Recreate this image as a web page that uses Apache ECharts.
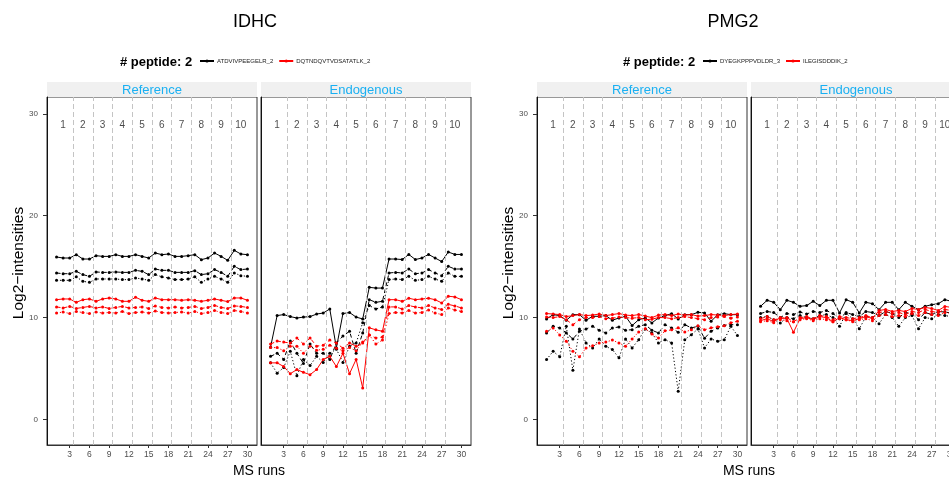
<!DOCTYPE html>
<html>
<head>
<meta charset="utf-8">
<script src="https://cdn.jsdelivr.net/npm/echarts@6/dist/echarts.min.js"></script>
<style>
  html, body { margin: 0; padding: 0; background: #fff; }
  #chart { width: 949px; height: 481px; }
</style>
</head>
<body>
<div id="chart"></div>
<script>
// ---- data ----
var runs = [1,2,3,4,5,6,7,8,9,10,11,12,13,14,15,16,17,18,19,20,21,22,23,24,25,26,27,28,29,30];
var conditions = ['1','2','3','4','5','6','7','8','9','10'];
var runsPerCondition = 3;
var runTicks = [3,6,9,12,15,18,21,24,27,30];
var intensityTicks = [0,10,20,30];

var idhcPeptides = ['ATDVIVPEEGELR_2', 'DQTNDQVTVDSATATLK_2'];
var pmg2Peptides = ['DYEGKPPPVDLDR_3', 'ILEGISDDDIK_2'];

// IDHC - Reference
var idhcRefP1T1 = [15.95,15.85,15.85,16.18,15.75,15.75,16.08,16.01,16.01,16.18,16.01,16.01,16.18,16.01,15.85,16.34,16.18,16.24,16.01,16.01,16.08,16.18,15.69,15.85,16.34,16.01,15.62,16.6,16.24,16.18];
var idhcRefP1T2 = [14.38,14.31,14.31,14.54,14.22,14.05,14.48,14.44,14.44,14.48,14.44,14.44,14.64,14.54,14.22,14.77,14.64,14.64,14.44,14.44,14.44,14.61,14.22,14.31,14.71,14.44,14.05,15.03,14.71,14.77];
var idhcRefP1T3 = [13.66,13.66,13.66,14.0,13.56,13.46,13.79,13.79,13.79,13.79,13.73,13.73,13.89,13.79,13.66,14.22,14.0,13.89,13.73,13.73,13.79,14.0,13.46,13.79,14.05,13.79,13.46,14.38,14.12,14.05];
var idhcRefP2T1 = [11.76,11.83,11.83,11.5,11.76,11.83,11.6,11.83,11.93,11.83,11.6,11.6,12.0,11.7,11.6,11.93,11.76,11.76,11.76,11.7,11.76,11.7,11.6,11.7,11.83,11.7,11.57,11.93,11.93,11.7];
var idhcRefP2T2 = [11.05,10.95,11.1,10.9,11.0,11.1,10.95,11.05,10.9,11.0,11.1,10.95,11.0,11.05,10.9,11.15,11.0,10.95,11.05,10.95,11.0,11.1,10.9,11.0,11.2,11.0,10.9,11.15,11.1,11.0];
var idhcRefP2T3 = [10.45,10.55,10.4,10.6,10.5,10.4,10.55,10.45,10.5,10.45,10.6,10.4,10.5,10.55,10.45,10.65,10.5,10.45,10.5,10.55,10.45,10.6,10.4,10.5,10.7,10.5,10.4,10.7,10.6,10.45];

// IDHC - Endogenous
var idhcEndP1T1 = [7.1,10.2,10.3,10.1,9.96,10.05,10.1,10.35,10.45,10.85,7.03,10.4,10.5,10.05,9.87,12.97,12.9,12.9,15.75,15.75,15.7,16.2,15.7,15.85,16.2,15.85,15.5,16.44,16.2,16.2];
var idhcEndP1T2 = [6.2,6.5,5.9,7.7,6.5,5.5,7.4,6.5,6.5,5.9,7.5,8.2,8.66,6.5,8.5,11.76,11.5,11.6,14.38,14.44,14.38,14.77,14.31,14.38,14.71,14.38,14.12,15.03,14.77,14.77];
var idhcEndP1T3 = [5.56,4.55,5.1,6.7,4.3,5.9,5.3,6.2,5.6,6.5,6.9,5.6,7.2,7.5,9.5,11.18,10.85,11.05,13.73,13.79,13.73,14.05,13.66,13.73,14.05,13.79,13.56,14.38,14.05,14.05];
var idhcEndP2T1 = [5.56,5.56,5.2,4.5,4.9,4.63,4.4,4.9,5.9,6.2,5.2,6.5,4.5,5.9,3.1,9.0,8.8,8.66,11.76,11.76,11.6,11.9,11.76,11.83,11.9,11.76,11.44,12.1,12.03,11.76];
var idhcEndP2T2 = [7.4,7.7,7.6,7.5,8.0,7.4,8.0,7.2,7.3,7.8,7.5,7.0,7.5,7.2,7.5,8.3,8.0,8.1,11.05,11.05,10.85,11.18,11.05,10.95,11.18,10.95,10.8,11.3,11.15,10.95];
var idhcEndP2T3 = [7.06,7.06,6.75,7.2,7.2,6.5,7.2,6.8,6.9,7.3,7.0,6.75,7.06,6.75,7.6,8.3,7.4,7.8,10.4,10.5,10.45,10.7,10.45,10.5,10.75,10.45,10.3,10.95,10.75,10.6];

// PMG2 - Reference
var pmg2RefP1T1 = [9.87,10.29,10.2,9.74,10.29,10.29,9.74,10.13,10.13,10.2,9.74,9.97,10.13,9.22,9.8,9.97,9.48,9.97,10.2,10.39,9.87,10.29,10.29,10.52,10.46,9.64,10.29,10.39,10.29,10.29];
var pmg2RefP1T2 = [8.5,9.15,8.99,8.5,7.9,8.66,8.89,9.15,8.76,8.5,8.99,9.08,8.76,8.82,9.15,9.31,8.76,8.5,9.31,8.99,8.56,9.31,8.99,9.15,7.97,8.66,8.99,9.22,9.31,9.31];
var pmg2RefP1T3 = [5.88,6.7,6.15,9.15,4.83,8.89,7.52,7.03,7.9,7.19,6.86,6.05,7.9,7.03,7.84,8.89,8.5,7.52,7.84,7.52,2.78,7.84,8.33,8.89,7.03,7.9,7.68,7.84,9.15,8.24];
var pmg2RefP2T1 = [10.4,10.35,10.3,10.1,10.2,10.3,10.2,10.25,10.35,10.2,10.3,10.4,10.25,10.2,10.3,10.15,10.0,10.25,10.3,10.2,10.35,10.25,10.3,10.15,10.2,10.3,10.25,10.2,10.3,10.35];
var pmg2RefP2T2 = [10.05,10.0,10.1,9.8,9.3,9.8,10.0,10.0,10.1,9.9,9.95,10.05,10.0,9.95,10.0,9.8,9.85,10.0,10.0,9.9,10.0,10.1,10.0,9.9,9.8,10.0,10.05,10.1,9.95,10.05];
var pmg2RefP2T3 = [8.66,8.99,8.3,7.68,6.7,6.15,7.03,7.25,7.5,7.6,7.8,7.5,7.2,7.9,8.6,8.9,8.4,8.0,8.7,8.8,9.0,8.6,8.8,9.2,8.8,9.0,9.1,9.2,9.5,9.64];

// PMG2 - Endogenous
var pmg2EndP1T1 = [11.11,11.7,11.5,10.78,11.7,11.5,11.11,11.18,11.6,11.18,11.7,11.7,10.46,11.76,11.5,10.46,11.5,11.37,10.78,11.5,11.5,10.78,11.5,11.11,10.78,11.11,11.27,11.37,11.76,11.6];
var pmg2EndP1T2 = [10.4,10.6,10.5,10.0,10.4,10.3,10.55,10.35,10.6,10.5,10.7,10.4,9.9,10.5,10.3,10.1,10.6,10.5,10.2,10.6,10.4,10.0,10.5,10.4,9.8,10.5,10.3,10.6,10.55,10.45];
var pmg2EndP1T3 = [10.0,10.1,9.8,9.48,10.0,9.9,10.2,10.0,9.9,10.2,10.3,10.0,9.15,10.4,9.9,8.9,10.1,10.0,9.4,10.3,10.0,9.15,10.0,10.2,8.9,10.0,9.9,10.3,10.2,10.1];
var pmg2EndP2T1 = [9.7,9.9,9.6,10.0,9.9,8.56,9.9,10.0,9.8,10.1,10.0,9.6,10.0,9.8,9.7,9.9,10.1,9.9,10.7,10.8,10.6,10.7,10.6,10.9,10.8,11.0,10.9,10.7,11.1,11.0];
var pmg2EndP2T2 = [9.9,10.1,9.8,9.9,10.0,9.6,10.0,10.1,9.9,10.2,10.1,9.8,10.1,10.0,9.9,10.0,10.2,10.0,10.5,10.6,10.4,10.5,10.3,10.6,10.5,10.8,10.6,10.5,10.8,10.7];
var pmg2EndP2T3 = [9.6,9.7,9.5,9.8,9.7,9.6,9.8,9.9,9.7,9.9,9.8,9.6,9.9,9.8,9.6,9.8,9.9,9.7,10.2,10.3,10.1,10.2,10.1,10.4,10.2,10.5,10.3,10.2,10.5,10.4];

// ---- layout ----
var FONT = "'Liberation Sans', Arial, Helvetica, sans-serif";
var panelTop = 97, panelHeight = 348, panelWidth = 210;
var panelLefts = [47, 261, 537, 751];
var stripNames = ['Reference', 'Endogenous', 'Reference', 'Endogenous'];
var dashTypes = ['solid', [4, 3], [1.2, 2.2]];
var colors = ['#000000', '#FF0000'];

var panelData = [
  { peptides: idhcPeptides, sets: [[idhcRefP1T1, idhcRefP1T2, idhcRefP1T3], [idhcRefP2T1, idhcRefP2T2, idhcRefP2T3]] },
  { peptides: idhcPeptides, sets: [[idhcEndP1T1, idhcEndP1T2, idhcEndP1T3], [idhcEndP2T1, idhcEndP2T2, idhcEndP2T3]] },
  { peptides: pmg2Peptides, sets: [[pmg2RefP1T1, pmg2RefP1T2, pmg2RefP1T3], [pmg2RefP2T1, pmg2RefP2T2, pmg2RefP2T3]] },
  { peptides: pmg2Peptides, sets: [[pmg2EndP1T1, pmg2EndP1T2, pmg2EndP1T3], [pmg2EndP2T1, pmg2EndP2T2, pmg2EndP2T3]] }
];

// condition centres and boundaries from the run layout
var condCenters = conditions.map(function (c, i) { return i * runsPerCondition + (runsPerCondition + 1) / 2; });
var condBounds = [];
for (var b = 1; b < conditions.length; b++) condBounds.push(b * runsPerCondition + 0.5);

var grids = [], xAxes = [], yAxes = [], series = [], graphics = [];

panelLefts.forEach(function (left, g) {
  var isRef = (g % 2 === 0);
  grids.push({
    left: left, top: panelTop, width: panelWidth, height: panelHeight,
    outerBoundsMode: 'none', containLabel: false,
    show: true, borderColor: '#333', borderWidth: 1, backgroundColor: '#fff'
  });
  xAxes.push({
    type: 'value', gridIndex: g, min: -0.45, max: 31.45,
    axisLine: { show: true, onZero: false, lineStyle: { color: '#333', width: 1 } },
    axisTick: { show: true, length: 3, customValues: runTicks, lineStyle: { color: '#333' } },
    axisLabel: { customValues: runTicks, fontSize: 8.5, color: '#4D4D4D', fontFamily: FONT, margin: 5 },
    splitLine: { show: false }
  });
  yAxes.push({
    type: 'value', gridIndex: g, min: -2.5, max: 31.65,
    axisLine: { show: true, onZero: false, lineStyle: { color: '#111', width: 1 } },
    axisTick: { show: isRef, length: 4, customValues: intensityTicks, lineStyle: { color: '#333' } },
    axisLabel: { show: isRef, customValues: intensityTicks, fontSize: 8, color: '#4D4D4D', fontFamily: FONT, margin: 9 },
    splitLine: { show: false }
  });

  // condition labels + dashed separators
  series.push({
    type: 'scatter', xAxisIndex: g, yAxisIndex: g, silent: true, animation: false,
    symbol: 'circle', symbolSize: 1, itemStyle: { color: 'rgba(0,0,0,0)' },
    data: condCenters.map(function (x) { return [x, 28.9]; }),
    label: {
      show: true, position: 'inside', fontSize: 10, color: '#1A1A1A', fontFamily: FONT,
      formatter: function (p) { return conditions[p.dataIndex]; }
    },
    markLine: {
      silent: true, animation: false, symbol: ['none', 'none'],
      label: { show: false },
      lineStyle: { color: '#C4C4C4', type: [5, 3], width: 1 },
      data: condBounds.map(function (x) { return { xAxis: x }; })
    }
  });

  var pd = panelData[g];
  pd.sets.forEach(function (trans, p) {
    trans.forEach(function (vals, t) {
      series.push({
        type: 'line', name: pd.peptides[p], xAxisIndex: g, yAxisIndex: g,
        animation: false,
        data: runs.map(function (r, i) { return [r, vals[i]]; }),
        symbol: 'circle', symbolSize: 3, showSymbol: true,
        lineStyle: { color: colors[p], width: 1, type: dashTypes[t] },
        itemStyle: { color: colors[p] },
        emphasis: { disabled: true }
      });
    });
  });

  // strip
  graphics.push({
    type: 'rect', silent: true,
    shape: { x: left, y: 82, width: panelWidth, height: 15 },
    style: { fill: '#F0F0F0' }
  });
  graphics.push({
    type: 'text', silent: true,
    style: {
      text: stripNames[g], x: left + panelWidth / 2, y: 90,
      textAlign: 'center', textVerticalAlign: 'middle',
      fill: '#1AB0F2', font: '13px ' + FONT
    }
  });
});

function label(text, x, y, size, weight, rot) {
  return {
    type: 'text', silent: true, x: x, y: y, rotation: rot || 0,
    style: {
      text: text, x: 0, y: 0, textAlign: 'center', textVerticalAlign: 'middle',
      fill: '#000', font: (weight || 'normal') + ' ' + size + 'px ' + FONT
    }
  };
}
graphics.push(label('IDHC', 255, 22, 18));
graphics.push(label('PMG2', 733, 22, 18));
graphics.push(label('MS runs', 259, 471, 14));
graphics.push(label('MS runs', 749, 471, 14));
graphics.push(label('Log2\u2212intensities', 19, 263, 15.5, 'normal', Math.PI / 2));
graphics.push(label('Log2\u2212intensities', 509, 263, 15.5, 'normal', Math.PI / 2));
graphics.push(label('# peptide: 2', 156, 62, 13, 'bold'));
graphics.push(label('# peptide: 2', 659, 62, 13, 'bold'));

var legendCommon = {
  top: 58, padding: 0, itemWidth: 14, itemHeight: 4, itemGap: 5,
  textStyle: { fontSize: 6, color: '#1A1A1A', fontFamily: FONT, padding: [0, 0, 0, -2] },
  selectedMode: false
};

var chart = echarts.init(document.getElementById('chart'), null, { renderer: 'canvas' });
chart.setOption({
  animation: false,
  backgroundColor: '#fff',
  grid: grids,
  xAxis: xAxes,
  yAxis: yAxes,
  legend: [
    Object.assign({ left: 199, data: idhcPeptides }, legendCommon),
    Object.assign({ left: 702, data: pmg2Peptides }, legendCommon)
  ],
  graphic: graphics,
  series: series
});
</script>
</body>
</html>
